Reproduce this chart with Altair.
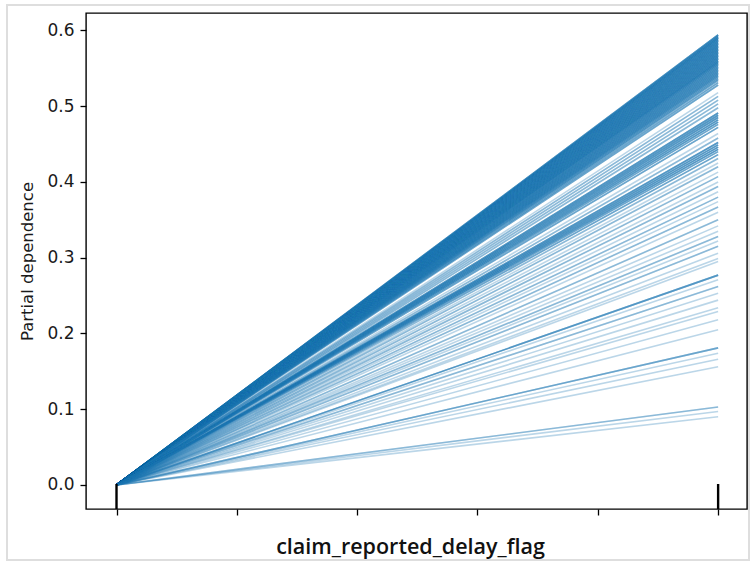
import altair as alt
import pandas as pd

# ICE line end values at claim_reported_delay_flag = 1 (all start at 0 for flag = 0)
end_values = [
    0.594, 0.592, 0.590, 0.588, 0.586, 0.584, 0.582, 0.580, 0.578, 0.576,
    0.574, 0.572, 0.570, 0.568, 0.566, 0.564, 0.562, 0.560, 0.558, 0.556,
    0.554, 0.552, 0.550, 0.548, 0.546, 0.544, 0.542, 0.540, 0.538, 0.536,
    0.534, 0.531, 0.528,
    0.518, 0.513, 0.508, 0.503, 0.498,
    0.491, 0.488, 0.485, 0.482, 0.479, 0.476, 0.472,
    0.464, 0.458,
    0.452, 0.449, 0.446, 0.443, 0.440, 0.436, 0.431,
    0.425, 0.420, 0.413, 0.407, 0.400, 0.394, 0.387, 0.380, 0.374, 0.367,
    0.360, 0.350, 0.342, 0.335, 0.328, 0.322, 0.315, 0.306, 0.299, 0.295,
    0.277, 0.271, 0.262, 0.253, 0.244, 0.234, 0.229, 0.218, 0.205,
    0.181, 0.174, 0.166, 0.156,
    0.103, 0.097, 0.090,
]
# number of (overlapping) ICE lines ending at each value
line_counts = [
    5, 5, 5, 5, 5, 5, 5, 5, 5, 5,
    5, 5, 5, 5, 5, 5, 5, 5, 5, 4,
    4, 4, 4, 4, 4, 4, 4, 4, 3, 3,
    3, 3, 3,
    1, 2, 2, 2, 2,
    4, 4, 4, 4, 4, 3, 3,
    1, 2,
    4, 4, 4, 4, 3, 3, 2,
    1, 2, 1, 2, 1, 2, 1, 2, 1, 2,
    1, 2, 1, 1, 2, 1, 2, 1, 1, 1,
    4, 1, 2, 1, 1, 1, 1, 1, 1,
    3, 1, 1, 1,
    2, 1, 1,
]
flag_values = [0, 1]
deciles = [0, 1]
x_ticks = [0, 0.2, 0.4, 0.6, 0.8, 1.0]
y_ticks = [0.0, 0.1, 0.2, 0.3, 0.4, 0.5, 0.6]

rows = []
line_id = 0
for v, c in zip(end_values, line_counts):
    for _ in range(c):
        rows.append({"id": line_id, "flag": flag_values[0], "pd": 0.0})
        rows.append({"id": line_id, "flag": flag_values[1], "pd": v})
        line_id += 1
df = pd.DataFrame(rows)
rug_df = pd.DataFrame({"decile": deciles})

W, H = 661, 496
xscale = alt.Scale(domain=[-0.0507, 1.048], nice=False, zero=False)
yscale = alt.Scale(domain=[-0.0317, 0.623], nice=False, zero=False)

lines = alt.Chart(df).mark_line(
    color="#1f77b4", strokeWidth=1.6, opacity=0.3
).encode(
    x=alt.X("flag:Q", scale=xscale,
            axis=alt.Axis(values=x_ticks, labels=False, tickSize=6, tickColor="#000",
                          tickWidth=1.3, domain=False, grid=False,
                          title="claim_reported_delay_flag", titleFont="Open Sans",
                          titleFontSize=21.5, titleFontWeight=600, titleColor="#111",
                          titlePadding=21, titleX=324)),
    y=alt.Y("pd:Q", scale=yscale,
            axis=alt.Axis(values=y_ticks, format=".1f", tickSize=6, tickColor="#000",
                          tickWidth=1.3, domain=False, grid=False,
                          labelFont="DejaVu Sans", labelFontSize=17, labelColor="#1a1a1a",
                          labelPadding=6,
                          title="Partial dependence", titleFont="DejaVu Sans",
                          titleFontSize=16.5, titleFontWeight="normal", titleColor="#1a1a1a",
                          titlePadding=11)),
    detail="id:N",
)

rug = alt.Chart(rug_df).mark_rule(color="#000", strokeWidth=2.4).encode(
    x=alt.X("decile:Q", scale=xscale),
    y=alt.value(H),
    y2=alt.value(H - 25),
)

border = alt.Chart(rug_df).mark_rect(
    fill="transparent", stroke="#dedede", strokeWidth=2, clip=False
).encode(
    x=alt.value(-79), x2=alt.value(663), y=alt.value(-8), y2=alt.value(547)
)

chart = alt.layer(border, lines, rug).properties(
    width=W, height=H,
    autosize=alt.AutoSizeParams(type="none"),
    padding={"left": 86, "top": 13, "right": 4, "bottom": 56},
    background="white",
).configure_view(stroke="#000", strokeWidth=1.4)

chart.save("out.html", embed_options={"renderer": "svg", "actions": False})
